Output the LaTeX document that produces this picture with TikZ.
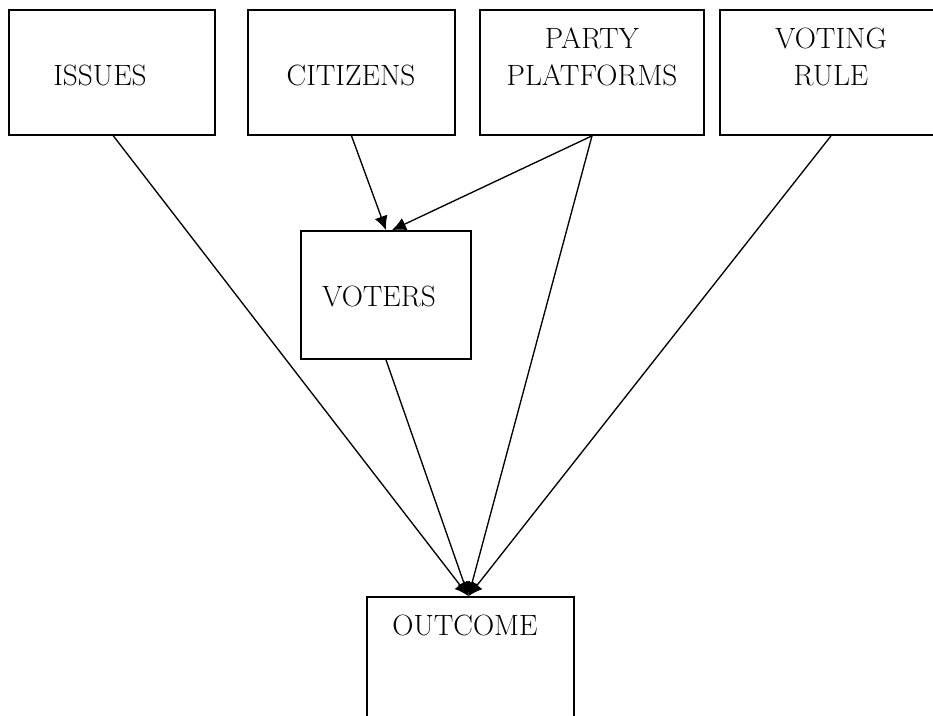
\documentclass[tikz,border=0pt]{standalone}
\usetikzlibrary{arrows.meta}
\begin{document}
\begin{tikzpicture}[x=0.75pt,y=-0.75pt,
  box/.style={draw=black,line width=1.3pt,inner sep=0pt,fill=none},
  lbl/.style={inner sep=0pt,align=center,font=\fontsize{22}{27.4}\selectfont},
  conn/.style={line width=1pt,-{Latex[length=10.5pt,width=10pt]}}]
\useasboundingbox (0,0) rectangle (933,716);
\clip (0,0) rectangle (933,716);
\node[box,minimum width=206*0.75pt,minimum height=125*0.75pt] (issues) at (112,72.5) {};
\node[box,minimum width=207*0.75pt,minimum height=125*0.75pt] (citizens) at (351.5,72.5) {};
\node[box,minimum width=224*0.75pt,minimum height=125*0.75pt] (party) at (592,72.5) {};
\node[box,minimum width=222*0.75pt,minimum height=125*0.75pt] (voting) at (831,72.5) {};
\node[box,minimum width=170*0.75pt,minimum height=128*0.75pt] (voters) at (386,295) {};
\node[box,minimum width=207*0.75pt,minimum height=133*0.75pt] (outcome) at (470.5,663.5) {};
\node[lbl] (tissues) at (100,75) {ISSUES};
\node[lbl] (tcitizens) at (351,75) {CITIZENS};
\node[lbl] (tparty) at (592,56.75) {PARTY\\PLATFORMS};
\node[lbl] (tvoting) at (831,56.75) {VOTING\\RULE};
\node[lbl] (tvoters) at (379,296) {VOTERS};
\node[lbl] (toutcome) at (465,625.5) {OUTCOME};
\draw[conn] (citizens.south) -- (voters.north);
\draw[conn] (party.south) -- ([xshift=6*0.75pt]voters.north);
\draw[conn] ([xshift=1pt]issues.south) -- ([xshift=-2*0.75pt]outcome.north);
\draw[conn] (party.south) -- ([xshift=-2*0.75pt]outcome.north);
\draw[conn] (voting.south) -- ([xshift=-2*0.75pt]outcome.north);
\draw[conn] (voters.south) -- ([xshift=-2*0.75pt]outcome.north);
\end{tikzpicture}
\end{document}
